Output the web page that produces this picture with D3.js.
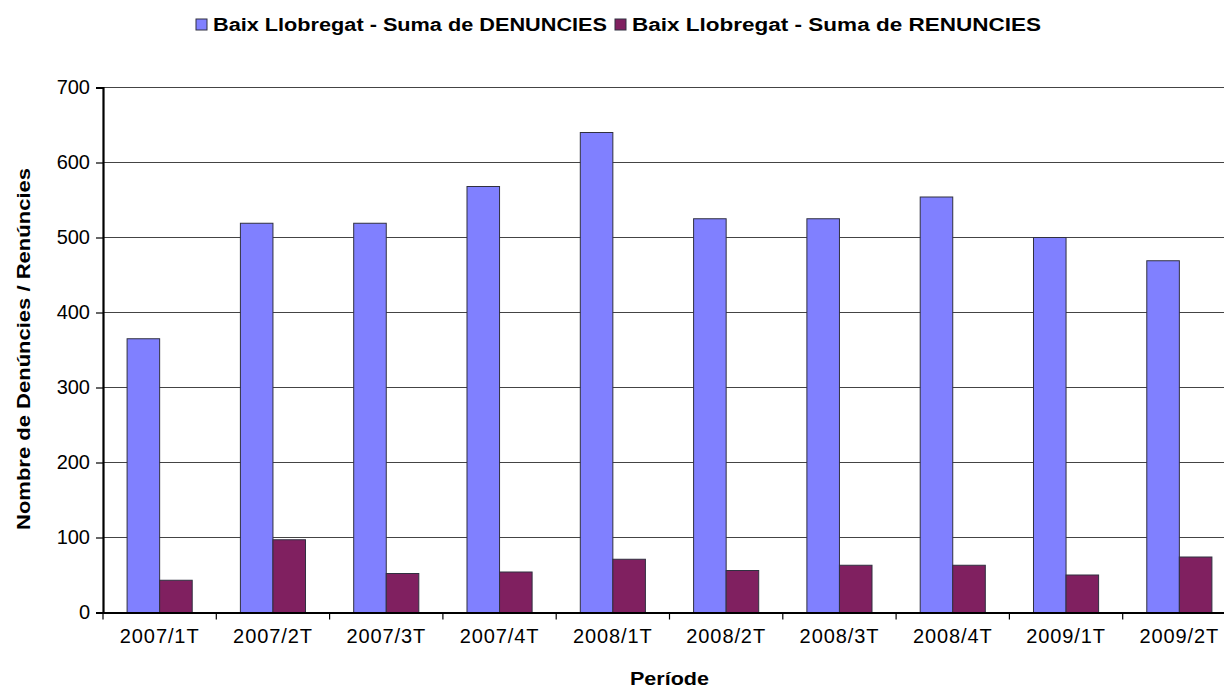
<!DOCTYPE html>
<html>
<head>
<meta charset="utf-8">
<script src="https://cdn.jsdelivr.net/npm/d3@7"></script>
<style>
    body { margin: 0; background: #fff; }
    text { font-family: "Liberation Sans", Arial, sans-serif; }
</style>
</head>
<body>
<div id="container-chart"></div>
<script>
// Dades
const periodes = ['2007/1T', '2007/2T', '2007/3T', '2007/4T', '2008/1T',
                  '2008/2T', '2008/3T', '2008/4T', '2009/1T', '2009/2T'];
const denuncies = [365, 519, 519, 568, 640, 525, 525, 554, 500, 469];
const renuncies = [43, 97, 52, 54, 71, 56, 63, 63, 50, 74];
const series = ['Baix Llobregat - Suma de DENUNCIES', 'Baix Llobregat - Suma de RENUNCIES'];
const colors = ['#8080ff', '#802060'];
const yTicks = [0, 100, 200, 300, 400, 500, 600, 700];

window.onload = function () {
    let width = 1224;
    let height = 690;
    let margin = { left: 103, right: -12, top: 87.5, bottom: 77.5 };

    let canvas = d3.select('#container-chart')
        .append('svg')
        .attr('width', width)
        .attr('height', height);

    // Echelles
    let x = d3.scaleBand()
        .domain(periodes)
        .range([margin.left, width - margin.right])
        .padding(0);

    let xInner = d3.scaleBand()
        .domain([0, 1])
        .range([0, x.bandwidth()])
        .paddingInner(0)
        .paddingOuter(0.74);

    let y = d3.scaleLinear()
        .domain([0, 700])
        .range([height - margin.bottom, margin.top]);

    // Grille
    canvas.append('g')
        .selectAll('line')
        .data(yTicks.slice(1))
        .enter()
        .append('line')
        .attr('x1', margin.left)
        .attr('x2', width)
        .attr('y1', d => y(d))
        .attr('y2', d => y(d))
        .attr('stroke', '#444')
        .attr('stroke-width', 1.2);

    // Barres
    let rows = periodes.map((p, i) => ({ periode: p, values: [denuncies[i], renuncies[i]] }));
    let group = canvas.selectAll('g.cat')
        .data(rows)
        .enter()
        .append('g')
        .attr('class', 'cat')
        .attr('transform', d => 'translate(' + x(d.periode) + ',0)');

    group.selectAll('rect')
        .data(d => d.values.map((v, k) => ({ k: k, v: v })))
        .enter()
        .append('rect')
        .attr('x', d => xInner(d.k))
        .attr('y', d => y(d.v))
        .attr('width', xInner.bandwidth())
        .attr('height', d => y(0) - y(d.v))
        .attr('fill', d => colors[d.k])
        .attr('stroke', '#303040')
        .attr('stroke-width', 1);

    // Axe Y
    let yAxis = d3.axisLeft(y)
        .tickValues(yTicks)
        .tickSize(7)
        .tickPadding(6);
    let gy = canvas.append('g')
        .attr('transform', 'translate(' + margin.left + ',0)')
        .call(yAxis);
    gy.select('.domain').attr('stroke', '#000').attr('stroke-width', 2.2);
    gy.selectAll('.tick line').attr('stroke', '#000').attr('stroke-width', 1.2);
    gy.selectAll('.tick text')
        .attr('font-size', 20)
        .attr('font-family', '"Liberation Sans", Arial, sans-serif')
        .attr('fill', '#000');

    // Axe X
    let xAxis = d3.axisBottom(x)
        .tickSize(0)
        .tickPadding(16);
    let gx = canvas.append('g')
        .attr('transform', 'translate(0,' + y(0) + ')')
        .call(xAxis);
    gx.select('.domain').attr('stroke', '#000').attr('stroke-width', 2.2);
    gx.selectAll('.tick text')
        .attr('font-size', 20)
        .attr('letter-spacing', 0.9)
        .attr('font-family', '"Liberation Sans", Arial, sans-serif')
        .attr('fill', '#000');

    // Separateurs de categories
    canvas.append('g')
        .selectAll('line')
        .data(periodes)
        .enter()
        .append('line')
        .attr('x1', d => x(d))
        .attr('x2', d => x(d))
        .attr('y1', y(0))
        .attr('y2', y(0) + 7)
        .attr('stroke', '#000')
        .attr('stroke-width', 1.2);

    // Titres des axes
    canvas.append('text')
        .attr('x', (margin.left + width - margin.right) / 2)
        .attr('y', 685)
        .attr('text-anchor', 'middle')
        .attr('font-weight', 'bold')
        .attr('font-size', 19)
        .attr('textLength', 79)
        .attr('lengthAdjust', 'spacingAndGlyphs')
        .text('Període');

    canvas.append('text')
        .attr('transform', 'translate(30,' + ((y(0) + y(700)) / 2 - 1) + ') rotate(-90)')
        .attr('text-anchor', 'middle')
        .attr('font-weight', 'bold')
        .attr('font-size', 18.5)
        .attr('textLength', 362)
        .attr('lengthAdjust', 'spacingAndGlyphs')
        .text('Nombre de Denúncies / Renúncies');

    // Llegenda
    let legend = canvas.append('g').attr('transform', 'translate(196,19)');
    let lx = [0, 419];
    let lw = [394, 409];
    series.forEach((s, i) => {
        legend.append('rect')
            .attr('x', lx[i])
            .attr('y', 0)
            .attr('width', 11)
            .attr('height', 11)
            .attr('fill', colors[i])
            .attr('stroke', '#303040')
            .attr('stroke-width', 1);
        legend.append('text')
            .attr('x', lx[i] + 17)
            .attr('y', 12)
            .attr('font-weight', 'bold')
            .attr('font-size', 18)
            .attr('textLength', lw[i])
            .attr('lengthAdjust', 'spacingAndGlyphs')
            .text(s);
    });
};
</script>
</body>
</html>
